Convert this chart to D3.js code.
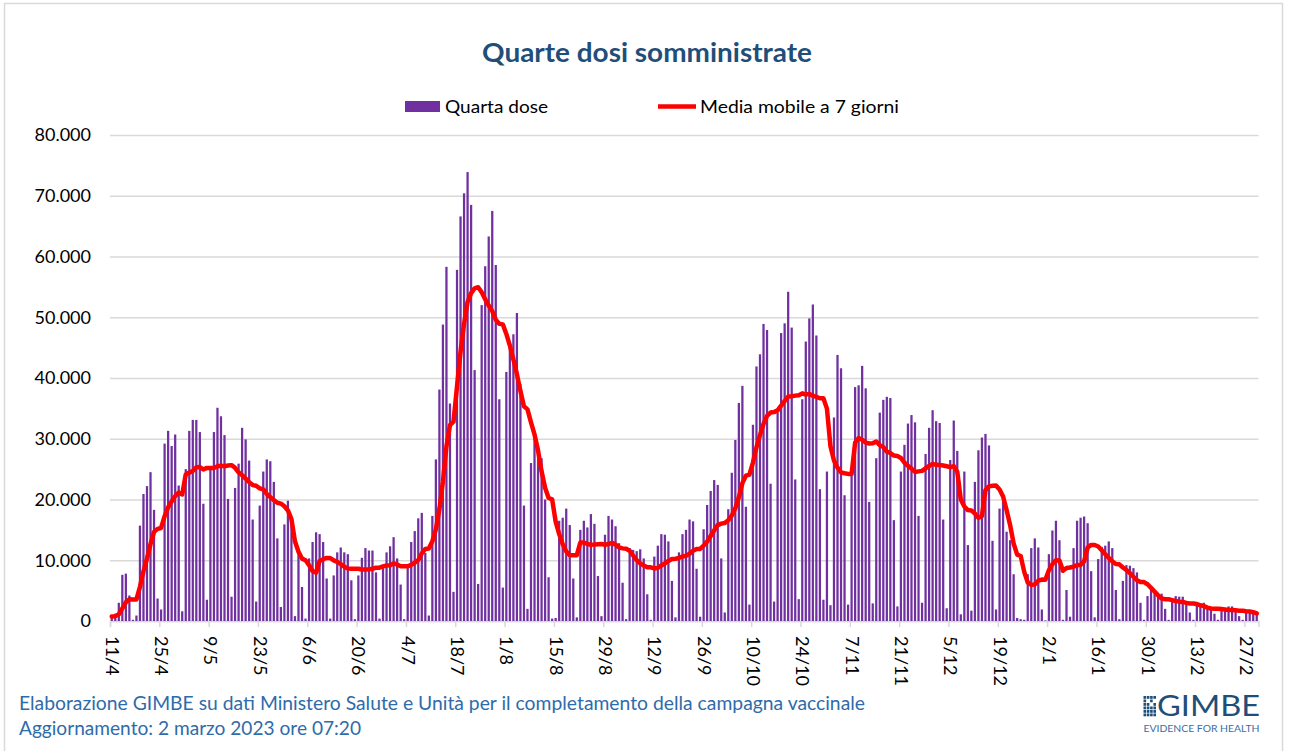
<!DOCTYPE html>
<html><head><meta charset="utf-8">
<script src="https://cdn.jsdelivr.net/npm/d3@7"></script>
<style>
html,body{margin:0;padding:0;background:#fff;}
svg{display:block;}
text{font-family:Lato,"Open Sans",sans-serif;}
</style></head>
<body>
<svg id="chart" width="1289" height="751"></svg>
<script>
// ---------- data (daily 4th doses) ----------
const firstDay = [2022, 3, 11];          // 11 April 2022
const lastDay  = [2023, 2, 2];           // 2 March 2023
const priorDays = [800, 800, 800, 800, 800, 300]; // 5-10 Apr, only feed the 7-day mean
const apr = [900,1200,3000,7600,7800,4200,200,900,15700,20900,22200,24500,18300,3700,1900,29200,31300,28800,30700,22300];
const may = [1600,25000,31300,33100,33100,31100,19300,3500,25000,31100,35100,33700,30600,20100,4000,21900,25900,31800,29900,26400,16700,3200,19000,24600,26600,26300,22900,13600,2300,15900,19800];
const jun = [16500,800,11000,5600,400,10300,13000,14600,14300,13000,7000,400,7500,11300,12100,11300,11000,6700,300,7500,10400,12000,11600,11600,8000,400,9000,11300,12300,13800];
const jul = [10300,6000,300,9000,13000,14800,16900,17800,11200,900,17300,26600,38100,48800,58300,35800,4800,57800,66600,70400,73900,68500,41300,6100,52000,58400,63300,67500,58600,36500,5500];
const aug = [41000,45000,47200,50700,39000,19000,2000,26000,31000,28700,26800,20000,7200,400,500,16500,17000,18500,15800,7000,600,15000,16500,15400,17600,16000,7400,800,14200,17300,16700];
const sep = [15600,12800,6300,300,12000,11700,11500,11800,10300,4400,200,10600,12400,14300,14200,13100,6600,600,11300,14300,15000,16700,16400,8600,700,15100,19100,21400,23200,22400];
const oct = [10300,1400,18400,24400,29800,35900,38700,18800,2700,32300,41900,43900,48900,47900,22600,3200,34300,47400,49000,54200,48300,23300,3600,36500,46000,49800,52100,47000,21700,3500,24600];
const nov = [2600,33500,43800,41600,20700,2700,24600,38500,38800,42000,38300,19600,2900,26800,34300,36400,36900,36700,16600,2400,24600,29000,32500,33900,32700,17300,3000,27500,31800,34700];
const dec = [32900,32600,16700,2100,26500,33000,28000,1100,24600,12500,1700,22900,28100,30200,30800,28900,13200,1900,18500,19900,14700,13300,7700,500,300,200,7700,12000,13600,12100,1900];
const jan = [100,11000,14900,16500,13300,200,5100,700,12000,16500,17000,17200,16100,8200,600,10200,12200,12400,13100,12000,5100,300,6600,9200,9100,8700,8000,3000,200,4100,5100];
const feb = [4800,4300,4500,2000,200,3200,4100,4000,4000,3300,1400,200,2600,2600,3000,2400,2200,1200,200,2200,2000,2400,2400,1900,800,200,1600,1700];
const mar = [1500,1000];

const tickLabels = ["11/4","25/4","9/5","23/5","6/6","20/6","4/7","18/7","1/8","15/8","29/8","12/9","26/9","10/10","24/10","7/11","21/11","5/12","19/12","2/1","16/1","30/1","13/2","27/2"];
const yTicks = [0,10000,20000,30000,40000,50000,60000,70000,80000];
const seriesNames = ["Quarta dose","Media mobile a 7 giorni"];
const titleText = "Quarte dosi somministrate";
const sourceText = "Elaborazione GIMBE su dati Ministero Salute e Unità per il completamento della campagna vaccinale";
const updateText = "Aggiornamento: 2 marzo 2023 ore 07:20";

// ---------- derived ----------
const daily = [].concat(apr, may, jun, jul, aug, sep, oct, nov, dec, jan, feb, mar);
const days = d3.timeDay.range(new Date(...firstDay), d3.timeDay.offset(new Date(...lastDay), 1));
const fmtDay = d3.timeFormat("%-d/%-m");
const cats = days.map(fmtDay);
const rows = cats.map((c, i) => ({cat: c, i, v: daily[i]}));
const ext = priorDays.concat(daily);
rows.forEach((r, i) => { r.ma = d3.mean(ext.slice(i, i + 7)); });

const PURPLE = "#7030A0", RED = "#FF0000", GRID = "#D9D9D9", TITLE = "#1F4E79", FOOT = "#2E6BAA";
const svg = d3.select("#chart");
const X0 = 110, X1 = 1258.5, Y0 = 621, Y1 = 135;

const x = d3.scaleBand().domain(cats).range([X0, X1]).paddingInner(0.36).paddingOuter(0.18);
const xi = d3.scaleLinear().domain([0, cats.length]).range([X0, X1]);
const y = d3.scaleLinear().domain([0, 80000]).range([Y0, Y1]);
const itLocale = d3.formatLocale({decimal: ",", thousands: ".", grouping: [3], currency: ["€", ""]});
const fmtY = itLocale.format(",");

function fit(sel, w) { return sel.attr("textLength", w).attr("lengthAdjust", "spacingAndGlyphs"); }

// chart frame
svg.append("rect").attr("x", 4.5).attr("y", 3.5).attr("width", 1278).attr("height", 760)
  .attr("fill", "#fff").attr("stroke", GRID).attr("stroke-width", 1.5);

// y axis with gridlines
const gy = svg.append("g").attr("transform", `translate(${X0},0)`)
  .call(d3.axisLeft(y).tickValues(yTicks).tickFormat(fmtY).tickSize(-(X1 - X0)).tickPadding(19));
gy.select(".domain").remove();
gy.selectAll(".tick line").attr("stroke", GRID).attr("stroke-width", 1.5);
gy.selectAll(".tick text").attr("font-size", 18).attr("fill", "#000").attr("font-family", "Lato");

// x axis (ticks on category boundaries, every 14 days)
const tickIdx = tickLabels.map(l => cats.indexOf(l));
const gx = svg.append("g").attr("transform", `translate(0,${Y0})`)
  .call(d3.axisBottom(xi).tickValues(tickIdx).tickSize(6).tickFormat(i => cats[i]));
gx.select(".domain").attr("stroke", GRID).attr("stroke-width", 1.5);
gx.selectAll(".tick line").attr("stroke", GRID).attr("stroke-width", 1.5);
gx.selectAll(".tick text")
  .attr("font-size", 18).attr("fill", "#000").attr("font-family", "Lato")
  .attr("text-anchor", "start").attr("dy", "0.36em").attr("x", 0).attr("y", 0)
  .attr("transform", `translate(${x.step() / 2},15) rotate(90)`);

// bars
svg.append("g").selectAll("rect").data(rows).join("rect")
  .attr("x", d => x(d.cat)).attr("width", x.bandwidth())
  .attr("y", d => y(d.v)).attr("height", d => Y0 - y(d.v))
  .attr("fill", PURPLE);

// moving average line
svg.append("path").datum(rows)
  .attr("fill", "none").attr("stroke", RED).attr("stroke-width", 4.5)
  .attr("stroke-linejoin", "round").attr("stroke-linecap", "round")
  .attr("d", d3.line().x(d => x(d.cat) + x.bandwidth() / 2).y(d => y(d.ma)));

// title
fit(svg.append("text").attr("x", 647).attr("y", 62).attr("text-anchor", "middle")
  .attr("font-size", 26).attr("font-weight", 700).attr("fill", TITLE).text(titleText), 330);

// legend
svg.append("rect").attr("x", 405).attr("y", 101).attr("width", 35).attr("height", 11).attr("fill", PURPLE);
fit(svg.append("text").attr("x", 445).attr("y", 113).attr("font-size", 18).attr("fill", "#000").text(seriesNames[0]), 103);
svg.append("line").attr("x1", 658).attr("x2", 696).attr("y1", 106.5).attr("y2", 106.5)
  .attr("stroke", RED).attr("stroke-width", 4.5);
fit(svg.append("text").attr("x", 700).attr("y", 113).attr("font-size", 18).attr("fill", "#000").text(seriesNames[1]), 199);

// footer
fit(svg.append("text").attr("x", 19).attr("y", 710).attr("font-size", 18.5).attr("fill", FOOT).text(sourceText), 846);
fit(svg.append("text").attr("x", 19).attr("y", 735).attr("font-size", 18.5).attr("fill", FOOT).text(updateText), 342);

// GIMBE logo
const logo = svg.append("g");
const cells = [];
d3.range(4).forEach(c => d3.range(6).forEach(r => {
  if (!((r === 1 && c === 1) || (r === 2 && c === 2) || (r === 1 && c === 3))) cells.push({c, r});
}));
logo.selectAll("rect").data(cells).join("rect")
  .attr("x", d => 1143.5 + d.c * 3.3).attr("y", d => 696 + d.r * 3.5)
  .attr("width", 2.6).attr("height", 2.8).attr("fill", TITLE);
fit(logo.append("text").attr("x", 1157).attr("y", 716).attr("font-family", "Liberation Serif")
  .attr("font-size", 29).attr("fill", TITLE).text("GIMBE"), 103);
fit(logo.append("text").attr("x", 1143.5).attr("y", 732).attr("font-family", "Lato")
  .attr("font-size", 8.5).attr("fill", "#3A6EA5").text("EVIDENCE FOR HEALTH"), 116);
</script>
</body></html>
